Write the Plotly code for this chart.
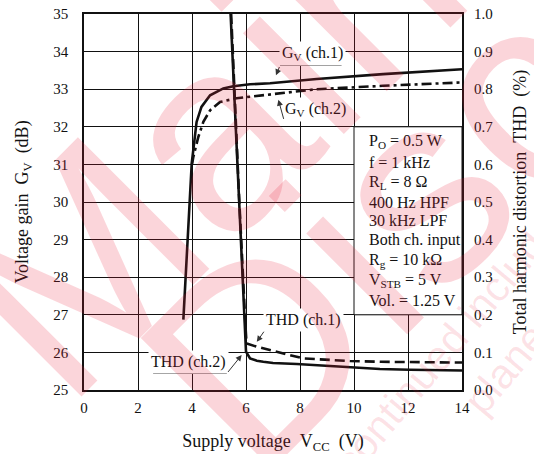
import plotly.graph_objects as go

# ---- data ----
vcc_gv1 = [3.68, 3.99, 4.17, 4.35, 4.67, 5.16, 5.53, 6.15, 6.89, 8.62, 11.08, 14.0]
gv1 = [26.87, 31.03, 32.13, 32.53, 32.84, 33.02, 33.08, 33.13, 33.16, 33.27, 33.40, 33.53]

vcc_gv2 = [4.0, 4.05, 4.23, 4.42, 4.67, 5.04, 5.65, 6.15, 6.89, 8.62, 11.08, 14.0]
gv2 = [31.0, 31.2, 31.72, 32.13, 32.44, 32.66, 32.76, 32.80, 32.86, 33.00, 33.09, 33.18]

vcc_thd1 = [5.45, 5.74, 5.98, 6.02, 6.4, 7.26, 8.12, 9.11, 9.85, 11.0, 12.0, 14.0]
thd1 = [1.0, 0.52, 0.17, 0.124, 0.115, 0.099, 0.084, 0.080, 0.077, 0.075, 0.074, 0.073]

vcc_thd2 = [5.43, 5.51, 5.72, 5.96, 6.0, 6.15, 6.4, 6.64, 7.0, 7.88, 9.11, 9.85, 10.96, 12.07, 14.0]
thd2 = [1.0, 0.877, 0.523, 0.169, 0.102, 0.084, 0.078, 0.075, 0.072, 0.069, 0.064, 0.059, 0.056, 0.054, 0.052]

x_ticks = [0, 2, 4, 6, 8, 10, 12, 14]
gv_ticks = [25, 26, 27, 28, 29, 30, 31, 32, 33, 34, 35]
thd_ticks = [0.0, 0.1, 0.2, 0.3, 0.4, 0.5, 0.6, 0.7, 0.8, 0.9, 1.0]

conditions = ["P<sub>O</sub> = 0.5 W", "f = 1 kHz", "R<sub>L</sub> = 8 Ω", "400 Hz HPF",
              "30 kHz LPF", "Both ch. input", "R<sub>g</sub> = 10 kΩ",
              "V<sub>STB</sub> = 5 V", "Vol. = 1.25 V"]
cond_y = [31.62, 31.06, 30.53, 30.00, 29.52, 28.98, 28.45, 27.92, 27.39]

FONT = "Liberation Serif, Times New Roman, Tinos, DejaVu Serif, serif"
SANS = "Liberation Sans, Arial, DejaVu Sans, sans-serif"
NB = "\u00a0"

fig = go.Figure()
fig.add_trace(go.Scatter(x=vcc_gv1, y=gv1, mode="lines", line=dict(color="#111", width=2.6),
                         showlegend=False, yaxis="y"))
fig.add_trace(go.Scatter(x=vcc_gv2, y=gv2, mode="lines",
                         line=dict(color="#111", width=2.6, dash="10px,4px,3px,4px"),
                         showlegend=False, yaxis="y"))
fig.add_trace(go.Scatter(x=vcc_thd2, y=thd2, mode="lines", line=dict(color="#111", width=2.6),
                         showlegend=False, yaxis="y2"))
fig.add_trace(go.Scatter(x=vcc_thd1, y=thd1, mode="lines",
                         line=dict(color="#111", width=2.6, dash="10px,5px"),
                         showlegend=False, yaxis="y2"))

shapes = []
# conditions box
shapes.append(dict(type="rect", xref="x", yref="y", x0=10, x1=14, y0=27, y1=32,
                   fillcolor="white", line=dict(color="#111", width=1), layer="above"))
# leader lines (horizontal parts)
lead = dict(color="#444", width=1)
shapes.append(dict(type="line", xref="x", yref="y", x0=7.26, x1=9.54, y0=33.63, y1=33.63, line=lead, layer="above"))
shapes.append(dict(type="line", xref="x", yref="y", x0=7.41, x1=9.48, y0=32.17, y1=32.17, line=lead, layer="above"))
shapes.append(dict(type="line", xref="x", yref="y", x0=6.70, x1=9.22, y0=26.59, y1=26.59, line=lead, layer="above"))
shapes.append(dict(type="line", xref="x", yref="y", x0=2.56, x1=5.29, y0=25.44, y1=25.44, line=lead, layer="above"))

ann = []
lab_font = dict(family=FONT, size=16, color="#111")
def label(text, x, y):
    ann.append(dict(text=text, x=x, y=y, xref="x", yref="y", showarrow=False,
                    font=lab_font, bgcolor="white", borderpad=2,
                    xanchor="center", yanchor="middle"))
def arrow(tx, ty, hx, hy):
    ann.append(dict(text="", x=hx, y=hy, xref="x", yref="y", ax=tx, ay=ty,
                    axref="x", ayref="y", showarrow=True, arrowhead=2, arrowsize=1.2,
                    arrowwidth=1, arrowcolor="#333", standoff=0, startstandoff=0))

label("G<sub>V</sub> (ch.1)", 8.48, 33.94)
arrow(7.26, 33.63, 7.11, 33.37)
label("G<sub>V</sub> (ch.2)", 8.59, 32.46)
arrow(7.41, 32.17, 7.2, 32.72)
label("THD (ch.1)", 8.12, 26.86)
arrow(6.70, 26.59, 6.40, 26.28)
label("THD (ch.2)", 3.86, 25.75)
arrow(5.29, 25.44, 5.84, 25.93)

for t, yy in zip(conditions, cond_y):
    ann.append(dict(text=t, x=10.47, y=yy, xref="x", yref="y", showarrow=False,
                    font=lab_font, xanchor="left", yanchor="middle"))

# watermark
wm = "rgba(235,30,60,0.19)"
wm2 = "rgba(235,30,60,0.13)"
ann.append(dict(text="Maintenance/", x=1.294, y=1.643, xref="paper", yref="paper",
                showarrow=False, textangle=-45, font=dict(family=SANS, size=270, color=wm),
                xanchor="center", yanchor="middle"))
ann.append(dict(text="Discontinued", x=1.743, y=1.391, xref="paper", yref="paper",
                showarrow=False, textangle=-45, font=dict(family=SANS, size=270, color=wm),
                xanchor="center", yanchor="middle"))
ann.append(dict(text="Maintenance/Discontinued includes following four Product lifecycle stage.",
                x=1.312, y=0.540, xref="paper", yref="paper",
                showarrow=False, textangle=-50, font=dict(family=SANS, size=42, color=wm2),
                xanchor="center", yanchor="middle"))
ann.append(dict(text="planed maintenance type, maintenance type, planed discontinued typed, discontinued type",
                x=2.460, y=1.670, xref="paper", yref="paper",
                showarrow=False, textangle=-50, font=dict(family=SANS, size=42, color=wm2),
                xanchor="center", yanchor="middle"))

fig.update_layout(
    width=534, height=454,
    margin=dict(l=84, r=72, t=14, b=64),
    paper_bgcolor="white", plot_bgcolor="white",
    font=dict(family=FONT, size=15, color="#111"),
    shapes=shapes, annotations=ann,
    xaxis=dict(range=[0, 14], tickvals=x_ticks, ticktext=[str(v) for v in x_ticks],
               showgrid=True, gridcolor="#111", gridwidth=1, zeroline=False,
               showline=True, linecolor="#111", linewidth=1.5, mirror=True, automargin=False,
               ticks="", ticklabelstandoff=3, tickfont=dict(family=FONT, size=15),
               title=dict(text="Supply voltage" + NB + NB + "V<sub>CC</sub>" + NB + NB + "(V)",
                          font=dict(family=FONT, size=18), standoff=20)),
    yaxis=dict(range=[25, 35], tickvals=gv_ticks, ticktext=[str(v) for v in gv_ticks],
               showgrid=True, gridcolor="#111", gridwidth=1, zeroline=False,
               showline=True, linecolor="#111", linewidth=1.5, mirror=True, automargin=False,
               ticks="", ticklabelstandoff=11, tickfont=dict(family=FONT, size=15),
               title=dict(text="Voltage gain" + NB + NB + "G<sub>V</sub>" + NB + NB + "(dB)",
                          font=dict(family=FONT, size=18), standoff=20)),
    yaxis2=dict(range=[0, 1.0], tickvals=thd_ticks, ticktext=["%.1f" % v for v in thd_ticks],
                overlaying="y", side="right", showgrid=False, zeroline=False, automargin=False,
                ticks="", ticklabelstandoff=11, tickfont=dict(family=FONT, size=15),
                title=dict(text="Total harmonic distortion" + NB + NB + "THD" + NB + NB + "(%)",
                           font=dict(family=FONT, size=18), standoff=21)),
)

fig.write_html("out.html", config={"displayModeBar": False},
               post_script="document.body.style.margin='0';")
